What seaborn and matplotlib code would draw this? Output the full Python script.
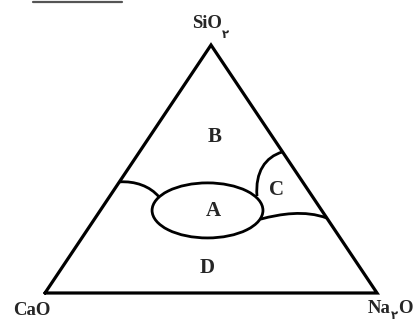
"""Ternary sketch: SiO2 - CaO - Na2O with regions A to D."""

import matplotlib.pyplot as plt
import seaborn as sns
from matplotlib.patches import Ellipse, PathPatch
from matplotlib.path import Path
from matplotlib.lines import Line2D

# compositions in % : SiO2 and Na2O given, CaO is the rest
corner_si = [0, 0, 100, 0]
corner_na = [0, 100, 0, 0]

# boundary curves (bezier: start, ctrl, ctrl, end)
left_si = [44.8, 45.2, 43.1, 38.7]
left_na = [0.0, 4.5, 10.1, 15.0]
c_arc_si = [56.9, 54.8, 48.8, 39.1]
c_arc_na = [43.1, 38.9, 38.9, 44.3]
lower_si = [29.8, 31.9, 33.5, 30.2]
lower_na = [50.1, 54.9, 61.6, 69.8]

# field A (ellipse)
a_center_si = 33.3
a_center_na = 32.3
a_width = 33.4
a_height = 22.2

region_names = ["A", "B", "C", "D"]
region_si = [33.1, 63.1, 41.5, 10.1]
region_na = [34.1, 19.5, 49.0, 43.9]

sub_two = "۲"


def to_xy(si, na):
    x = [(n + 0.5 * s) / 100 for s, n in zip(si, na)]
    y = [s / 100 for s in si]
    return x, y


sns.set_style("white")
serif_bold = dict(family="Liberation Serif", fontweight="bold", fontsize=13.5)
sub_font = dict(family="DejaVu Sans", fontweight="bold", fontsize=8.5)

fig = plt.figure(figsize=(4.18, 3.21), dpi=100)
ax = fig.add_axes([0, 0, 1, 1])

tx, ty = to_xy(corner_si, corner_na)
sns.lineplot(x=tx, y=ty, sort=False, estimator=None, color="black",
             lw=2.3, ax=ax)
ax.lines[-1].set_solid_joinstyle("miter")

for si, na in [(left_si, left_na), (c_arc_si, c_arc_na), (lower_si, lower_na)]:
    cx, cy = to_xy(si, na)
    path = Path(list(zip(cx, cy)), [Path.MOVETO, Path.CURVE4, Path.CURVE4, Path.CURVE4])
    ax.add_patch(PathPatch(path, facecolor="none", edgecolor="black", lw=2.0))

ex, ey = to_xy([a_center_si], [a_center_na])
ax.add_patch(Ellipse((ex[0], ey[0]), a_width / 100, a_height / 100,
                     facecolor="none", edgecolor="black", lw=2.0))

rx, ry = to_xy(region_si, region_na)
for name, x, y in zip(region_names, rx, ry):
    ax.text(x, y, name, ha="center", va="center", fontsize=15,
            fontweight="bold", family="Liberation Serif")

# corner labels (subscript drawn as its own text, hanging below the baseline)
t_si = ax.annotate("SiO", xy=(tx[2], ty[2]), xytext=(-3.2, 12),
                   textcoords="offset points", ha="center", va="baseline", **serif_bold)
ax.annotate(sub_two, xy=(1, 0), xycoords=t_si, xytext=(0.3, 3),
            textcoords="offset points", ha="left", va="top", **sub_font)

ax.annotate("CaO", xy=(tx[0], ty[0]), xytext=(-9.5, -16),
            textcoords="offset points", ha="center", va="baseline", **serif_bold)

t_na = ax.annotate("Na", xy=(tx[1], ty[1]), xytext=(-6.5, -14.5),
                   textcoords="offset points", ha="left", va="baseline", **serif_bold)
t_na2 = ax.annotate(sub_two, xy=(1, 0), xycoords=t_na, xytext=(0.0, 6),
                    textcoords="offset points", ha="left", va="top", **sub_font)
ax.annotate("O", xy=(1, 0), xycoords=(t_na2, t_na), xytext=(0.3, 0),
            textcoords="offset points", ha="left", va="bottom", **serif_bold)

# cut-off heading underline at the very top
fig.add_artist(Line2D([33 / 418, 122 / 418], [1 - 2 / 321, 1 - 2 / 321],
                      color="#555555", lw=1.6))

ax.set_xlim(-45 / 332, 373 / 332)
ax.set_ylim(-28 / 248, 1 + 45 / 248)
ax.axis("off")

fig.savefig("out.png", dpi=100)
